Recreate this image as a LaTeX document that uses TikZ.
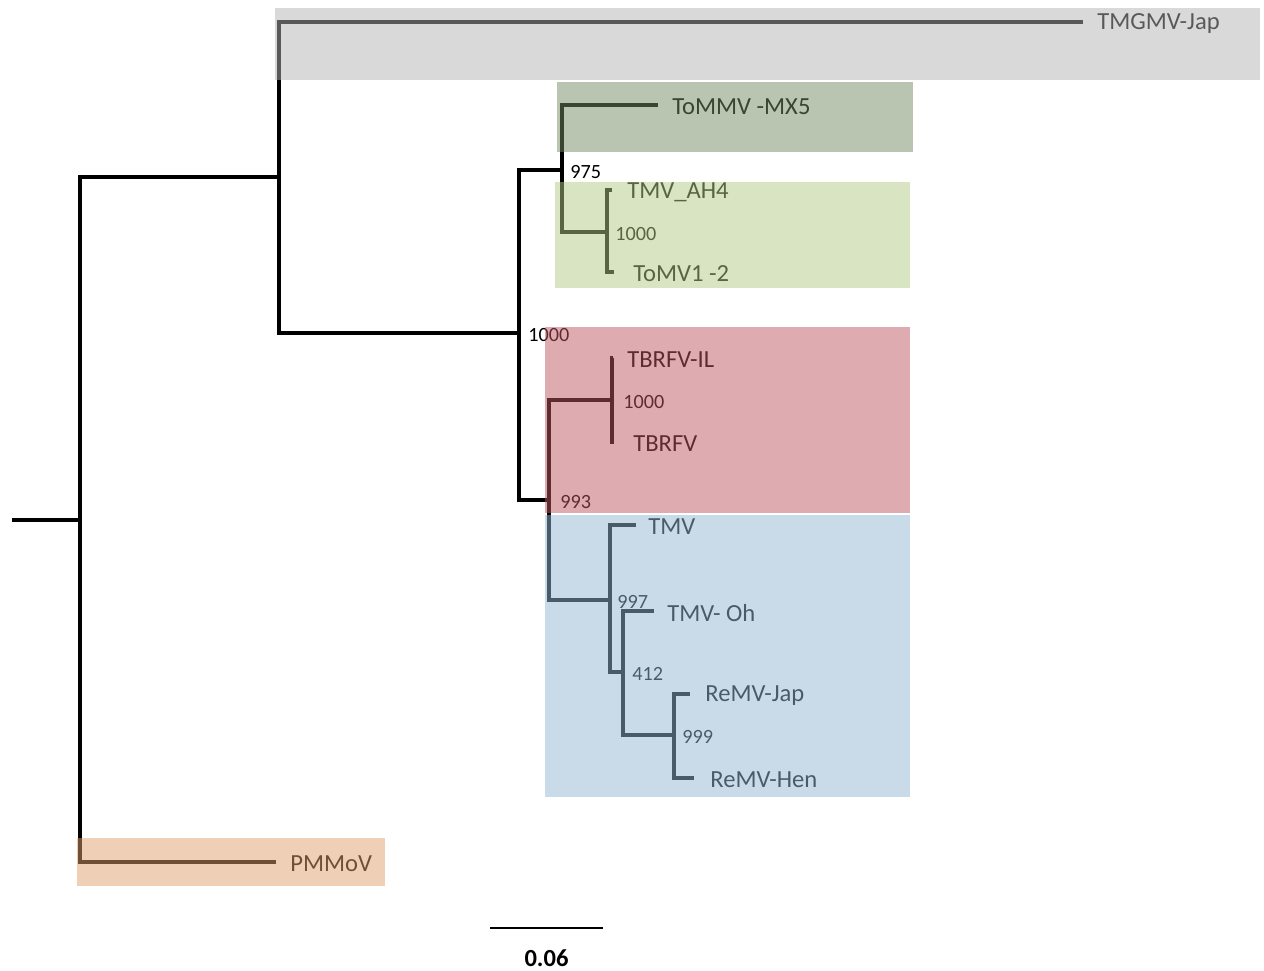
\documentclass[tikz,border=0pt]{standalone}
\usepackage{fontspec}
\setmainfont{Carlito}
\usepackage{xcolor}
\usetikzlibrary{positioning}
\definecolor{cladegray}{HTML}{B3B3B3}
\definecolor{cladedark}{HTML}{738B61}
\definecolor{cladelight}{HTML}{B1C985}
\definecolor{cladered}{HTML}{BD5961}
\definecolor{cladeblue}{HTML}{93B7D3}
\definecolor{cladepeach}{HTML}{E19F6F}

\begin{document}
\begin{tikzpicture}[
  x=0.02cm, y=-0.02cm,
  branch/.style={line width=2pt},
  leaf/.style={inner sep=0pt, anchor=west, font=\fontsize{14}{16}\selectfont},
  boot/.style={inner sep=0pt, font=\fontsize{11.5}{13}\selectfont},
  clade/.style={fill opacity=0.5}
]
  \useasboundingbox (0,0) rectangle (1264,970);

  % internal nodes
  \coordinate (root) at (12,520);
  \coordinate (n0) at (80,520);
  \coordinate (nA) at (279,177);
  \coordinate (nB) at (519,333);
  \coordinate (nC) at (562,170);
  \coordinate (nE) at (607,232);
  \coordinate (nD) at (549,500);
  \coordinate (nF) at (612,400);
  \coordinate (nG) at (610,600);
  \coordinate (nH) at (623,672);
  \coordinate (nI) at (674,735);

  % tips
  \coordinate (tTMGMV) at (1083,22);
  \coordinate (tToMMV) at (658,105);
  \coordinate (tAH4) at (612,190);
  \coordinate (tToMV) at (614,272);
  \coordinate (tIL) at (613,358);
  \coordinate (tTBRFV) at (614,442);
  \coordinate (tTMV) at (636,525);
  \coordinate (tOh) at (654,611);
  \coordinate (tJap) at (690,694);
  \coordinate (tHen) at (694,778);
  \coordinate (tPMMoV) at (276,862);

  % branches
  \draw[branch] (root) -- (n0);
  \draw[branch] (n0) |- (nA);
  \draw[branch] (n0) |- (tPMMoV);
  \draw[branch] (nA) |- (tTMGMV);
  \draw[branch] (nA) |- (nB);
  \draw[branch] (nB) |- (nC);
  \draw[branch] (nB) |- (nD);
  \draw[branch] (nC) |- (tToMMV);
  \draw[branch] (nC) |- (nE);
  \draw[branch] (nE) |- (tAH4);
  \draw[branch] (nE) |- (tToMV);
  \draw[branch] (nD) |- (nF);
  \draw[branch] (nD) |- (nG);
  \draw[branch] (nF) |- (tIL);
  \draw[branch] (nF) |- (tTBRFV);
  \draw[branch] (nG) |- (tTMV);
  \draw[branch] (nG) |- (nH);
  \draw[branch] (nH) |- (tOh);
  \draw[branch] (nH) |- (nI);
  \draw[branch] (nI) |- (tJap);
  \draw[branch] (nI) |- (tHen);

  % tip labels
  \node[leaf, right=2.8mm of tTMGMV, yshift=-1pt] (lTMGMV) {TMGMV-Jap};
  \node[leaf, right=2.8mm of tToMMV, yshift=-1pt] (lToMMV) {ToMMV -MX5};
  \node[leaf, right=3mm of tAH4, yshift=-1pt] (lAH4) {TMV\_AH4};
  \node[leaf, right=3.8mm of tToMV, yshift=-1pt] (lToMV) {ToMV1 -2};
  \node[leaf, right=2.8mm of tIL, yshift=-1pt] (lIL) {TBRFV-IL};
  \node[leaf, right=3.8mm of tTBRFV, yshift=-1pt] (lTBRFV) {TBRFV};
  \node[leaf, right=2.4mm of tTMV, yshift=-1pt] (lTMV) {TMV};
  \node[leaf, right=2.6mm of tOh, yshift=-1pt] (lOh) {TMV- Oh};
  \node[leaf, right=3mm of tJap, yshift=-1pt] (lJap) {ReMV-Jap};
  \node[leaf, right=3.2mm of tHen, yshift=-1pt] (lHen) {ReMV-Hen};
  \node[leaf, right=2.8mm of tPMMoV, yshift=-1pt] (lPMMoV) {PMMoV};

  % bootstrap values
  \node[boot, anchor=west, right=1.8mm of nB, yshift=-1pt] (bB) {1000};
  \node[boot, anchor=west, right=1.6mm of nC, yshift=-1pt] (bC) {975};
  \node[boot, anchor=west, right=1.6mm of nE, yshift=-1pt] (bE) {1000};
  \node[boot, anchor=west, right=2.2mm of nD, yshift=-1pt] (bD) {993};
  \node[boot, anchor=west, right=2.2mm of nF, yshift=-1pt] (bF) {1000};
  \node[boot, anchor=west, right=1.4mm of nG, yshift=-1pt] (bG) {997};
  \node[boot, anchor=west, right=1.8mm of nH, yshift=-1pt] (bH) {412};
  \node[boot, anchor=west, right=1.6mm of nI, yshift=-1pt] (bI) {999};

  % scale bar
  \coordinate (sbL) at (490,928);
  \coordinate (sbR) at (603,928);
  \draw[line width=1.5pt] (sbL) -- coordinate (sbM) (sbR);
  \node[font=\fontsize{14}{16}\selectfont\bfseries, inner sep=0pt, below=4.2mm of sbM] (sbLab) {0.06};

  % clade boxes
  \fill[cladegray, clade] (275,8) rectangle (1260,80);
  \fill[cladedark, clade] (557,82) rectangle (913,152);
  \fill[cladelight, clade] (555,182) rectangle (910,288);
  \fill[cladered, clade] (545,327) rectangle (910,513);
  \fill[cladeblue, clade] (545,515) rectangle (910,797);
  \fill[cladepeach, clade] (77,838) rectangle (385,886);
\end{tikzpicture}
\end{document}
